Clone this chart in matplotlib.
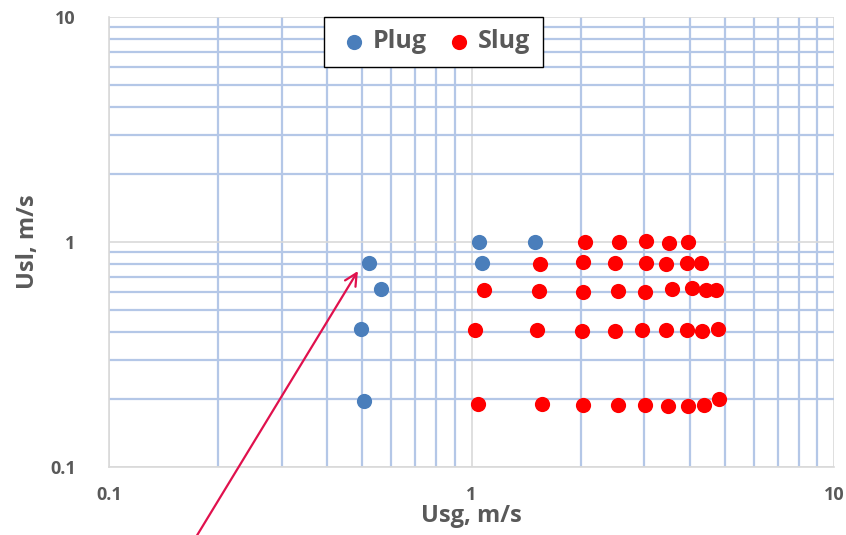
import matplotlib
matplotlib.use("Agg")
import matplotlib.pyplot as plt
from matplotlib.ticker import FixedLocator, NullFormatter

plt.rcParams['font.family'] = ['Open Sans', 'DejaVu Sans']

plug_usg = [0.521, 0.562, 0.495, 0.506, 1.048, 1.07, 1.50]
plug_usl = [0.804, 0.618, 0.41, 0.196, 1.0, 0.804, 1.0]

slug_usg = [2.05, 2.55, 3.02, 3.50, 3.96,
            1.55, 2.03, 2.49, 3.02, 3.45, 3.94, 4.31,
            1.08, 1.54, 2.03, 2.53, 3.01, 3.58, 4.05, 4.43, 4.72,
            1.02, 1.52, 2.02, 2.49, 2.95, 3.45, 3.94, 4.33, 4.78,
            1.04, 1.56, 2.03, 2.53, 3.01, 3.48, 3.96, 4.39, 4.83]
slug_usl = [1.0, 1.0, 1.013, 0.99, 1.0,
            0.796, 0.815, 0.804, 0.804, 0.796, 0.809, 0.804,
            0.614, 0.608, 0.601, 0.608, 0.601, 0.620, 0.623, 0.614, 0.614,
            0.406, 0.406, 0.401, 0.401, 0.406, 0.406, 0.406, 0.401, 0.412,
            0.191, 0.191, 0.189, 0.189, 0.189, 0.187, 0.187, 0.189, 0.200]

x_ticks = [0.1, 1, 10]
x_ticklabels = ['0.1', '1', '10']
y_ticks = [0.1, 1, 10]
y_ticklabels = ['0.1', '1', '10']

arrow_tip = (0.486, 0.743)

fig = plt.figure(figsize=(8.46, 5.35), dpi=100)
ax = fig.add_axes([109/846, 1-467/535, 725/846, 450/535])

ax.set_xscale('log')
ax.set_yscale('log')
ax.set_xlim(0.1, 10)
ax.set_ylim(0.1, 10)

minor_vals = [m * d for d in (0.1, 1) for m in range(2, 10)]
ax.xaxis.set_minor_locator(FixedLocator(minor_vals))
ax.yaxis.set_minor_locator(FixedLocator(minor_vals))
ax.xaxis.set_minor_formatter(NullFormatter())
ax.yaxis.set_minor_formatter(NullFormatter())
ax.set_xticks(x_ticks)
ax.set_xticklabels(x_ticklabels)
ax.set_yticks(y_ticks)
ax.set_yticklabels(y_ticklabels)

ax.grid(which='minor', color='#b4c7e7', linewidth=1.6)
ax.grid(which='major', color='#d9d9d9', linewidth=1.2)
ax.set_axisbelow(True)
for s in ['top', 'right']:
    ax.spines[s].set_visible(False)
for s in ['left', 'bottom']:
    ax.spines[s].set_color('#d9d9d9')
    ax.spines[s].set_linewidth(1.2)

ax.tick_params(which='both', length=0)
ax.tick_params(axis='x', pad=14, labelsize=13, labelcolor='#595959')
ax.tick_params(axis='y', pad=24, labelsize=13, labelcolor='#595959')
for lab in ax.get_xticklabels() + ax.get_yticklabels():
    lab.set_fontweight('bold')

ax.scatter(plug_usg, plug_usl, s=120, color='#4a7ebb', label='Plug', zorder=3, linewidths=0)
ax.scatter(slug_usg, slug_usl, s=120, color='#ff0000', label='Slug', zorder=3, linewidths=0)

ax.set_xlabel('Usg, m/s', fontsize=17, fontweight='bold', color='#595959', labelpad=0)
ax.set_ylabel('Usl, m/s', fontsize=17, fontweight='bold', color='#595959')
ax.yaxis.set_label_coords(-(109 - 40) / 725, 0.5)

leg = ax.legend(loc='upper left', bbox_to_anchor=((324-109)/725, 1.0), ncol=2,
                frameon=True, fancybox=False, edgecolor='#000000', framealpha=1,
                prop={'weight': 'bold', 'size': 18},
                handletextpad=0.05, columnspacing=0.6, markerscale=1.0,
                handlelength=1.4, borderpad=0.5, borderaxespad=0)
leg.get_frame().set_linewidth(1.0)
for t in leg.get_texts():
    t.set_color('#595959')

ax.annotate('', xy=arrow_tip, xycoords='data',
            xytext=(194/846, -0.01), textcoords='figure fraction',
            arrowprops=dict(arrowstyle='->', color='#e0114d', lw=1.6,
                            mutation_scale=22, shrinkA=0, shrinkB=0),
            annotation_clip=False)

fig.savefig('out.png', dpi=100)
